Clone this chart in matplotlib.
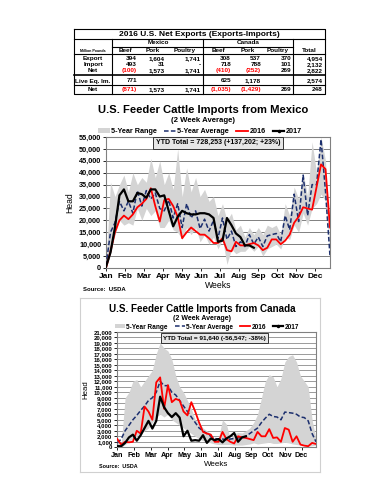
import numpy as np
import matplotlib
matplotlib.use("Agg")
import matplotlib.pyplot as plt
from matplotlib.lines import Line2D
from matplotlib.patches import Patch

plt.rcParams["font.family"] = ["Liberation Sans", "DejaVu Sans"]
plt.rcParams["font.weight"] = "bold"

W, H = 386, 500

# =========================
# data: net exports table
# =========================
tbl_title = "2016 U.S. Net Exports (Exports-Imports)"
tbl_cols = ["Beef", "Pork", "Poultry", "Beef", "Pork", "Poultry", "Total"]
tbl_rows = ["Export", "Import", "Net", "Live Eq. Im.", "Net"]
tbl_vals = [
    ["394", "1,604", "1,741", "308", "537", "370", "4,954"],
    ["493", "31", "-", "718", "788", "101", "2,132"],
    ["(100)", "1,573", "1,741", "(410)", "(252)", "269", "2,822"],
    ["771", "", "", "625", "1,178", "", "2,574"],
    ["(871)", "1,573", "1,741", "(1,035)", "(1,429)", "269", "248"],
]

months = ["Jan", "Feb", "Mar", "Apr", "May", "Jun", "Jul", "Aug", "Sep", "Oct", "Nov", "Dec"]

# =========================
# data: Mexico (head, 2 week avg)
# =========================
mx_2016 = [0, 7000, 15000, 20000, 22000, 20500, 22500, 25500, 27000, 29000,
           33500, 26000, 19500, 28500, 29000, 26000, 21500, 12500, 15000, 17000,
           15500, 14000, 14000, 12500, 10500, 10500, 12500, 7500, 7000, 11000,
           9500, 9500, 10000, 10500, 9500, 7500, 8500, 12000, 12000, 10000,
           11500, 14000, 19000, 21500, 25500, 25000, 24500, 34000, 43500, 41500,
           17000]
mx_2017 = [500, 6500, 17000, 30500, 33000, 28000, 28000, 31500, 31000, 29500,
           33000, 33000, 30000, 30500, 24000, 17500, 21500, 24000, 23000, 22500,
           22500, 23000, 23000, 22500, 21000, 11000, 11500, 21000, 18000, 14500,
           13000, 9500, 9500, 8500]
mx_avg = [1000, 15000, 19000, 28000, 24000, 28000, 23000, 32500, 26000, 32500,
          29000, 31500, 25000, 24000, 28500, 21000, 27000, 17000, 27000, 21000,
          24000, 16500, 20500, 15500, 20000, 12500, 21000, 12000, 15500, 9000,
          11000, 9000, 14000, 10000, 13000, 9000, 13500, 14000, 14500, 11000,
          22000, 16000, 31000, 19500, 39000, 22000, 35000, 35000, 54000, 32000,
          5000]
mx_hi = [2000, 36000, 30000, 35000, 39000, 32000, 40000, 35000, 38000, 36000,
         46000, 38000, 45000, 35000, 40000, 33000, 50000, 30000, 42000, 32000,
         38000, 30000, 33000, 28000, 30000, 22000, 27000, 20000, 23000, 16000,
         18000, 13000, 17000, 14000, 17000, 14000, 18000, 17000, 18000, 14000,
         27000, 22000, 34000, 29000, 40000, 30000, 53000, 40000, 55000, 45000,
         5000]
mx_lo = [0, 6000, 14000, 20000, 18000, 19000, 18000, 25000, 20000, 25000,
         22000, 24000, 17000, 17000, 20000, 16000, 15000, 12000, 17000, 14000,
         17000, 11000, 14000, 10000, 13000, 8000, 12000, 1500, 8000, 6000,
         7000, 7000, 9000, 7000, 9000, 5000, 8000, 9000, 10000, 8000,
         13000, 12000, 18000, 15000, 23000, 18000, 25000, 27000, 31000, 28000,
         5000]

# =========================
# data: Canada (head, 2 week avg)
# =========================
ca_2016 = [1500, 500, 1000, 900, 1000, 3000, 2500, 7400, 6500, 5000,
           11800, 12700, 7000, 11300, 8200, 8800, 8500, 6500, 5800, 8200,
           6500, 4500, 2800, 2500, 2300, 1000, 1000, 2800, 1500, 1000,
           700, 2000, 1800, 1700, 1500, 1300, 2800, 2000, 2000, 3300,
           1700, 1800, 1000, 3500, 3200, 1000, 2000, 500, 300, 200,
           800, 600]
ca_2017 = [200, 200, 800, 1800, 2300, 1200, 2200, 3500, 4800, 3400,
           4800, 9200, 7300, 6200, 5500, 6200, 5400, 2000, 3000, 1200,
           1300, 1200, 2200, 800, 1600, 1300, 1500, 900, 1600, 2000,
           2600, 1000, 1800, 2000]
ca_avg = [800, 1500, 3000, 4000, 5000, 5800, 6700, 7500, 8500, 9000,
          10000, 12000, 11200, 11200, 10000, 9500, 8500, 7500, 6500, 5500,
          4500, 3500, 3000, 2500, 2000, 1600, 1500, 1500, 1400, 1500,
          1600, 1700, 1800, 2000, 2500, 3000, 3500, 4500, 5300, 6000,
          5600, 5500, 5000, 6400, 6300, 6200, 6000, 5500, 5400, 4800,
          2500, 1000]
ca_hi = [1500, 500, 9000, 10000, 12000, 12300, 11000, 12000, 13000, 14000,
         17000, 19000, 18000, 17500, 16000, 13000, 11000, 10000, 8500, 7000,
         5000, 4500, 3500, 3000, 2500, 1500, 1800, 5000, 4200, 1500,
         2500, 2700, 2600, 3000, 3500, 4500, 6000, 9000, 12000, 13200,
         12800, 11000, 12500, 15500, 16500, 16800, 15500, 13000, 12000, 11000,
         5000, 1500]
ca_lo = [0, 0, 500, 1000, 1500, 2000, 2500, 3000, 3500, 4500,
         5500, 6000, 5500, 6000, 5000, 4500, 4000, 3500, 3000, 2500,
         2000, 1500, 1200, 1000, 800, 600, 500, 500, 500, 500,
         400, 400, 400, 500, 600, 800, 600, 700, 800, 900,
         700, 700, 800, 900, 800, 600, 500, 400, 300, 200,
         300, 400]

fig = plt.figure(figsize=(W / 100, H / 100), dpi=100)
fig.patch.set_facecolor("white")


def px_axes(x0, y0, x1, y1):
    return fig.add_axes([x0 / W, 1 - y1 / H, (x1 - x0) / W, (y1 - y0) / H])


# =========================
# 1. table
# =========================
tax = fig.add_axes([0, 0, 1, 1])
tax.set_xlim(0, W)
tax.set_ylim(H, 0)
tax.axis("off")

L, R = 74, 325
col_edges = [112, 139, 167, 203, 233, 263, 293, 325]
row_y = [58.3, 64.8, 70.8, 81.0, 89.5]
lw = 0.8
tax.plot([L, R, R, L, L], [29, 29, 94, 94, 29], color="black", lw=lw)
for y in [39, 54.3]:
    tax.plot([L, R], [y, y], color="black", lw=lw)
tax.plot([112, 293], [46.7, 46.7], color="black", lw=lw)
tax.plot([L, R], [75, 75], color="black", lw=1.2)
tax.plot([L, R], [85, 85], color="black", lw=lw)
for x in [112, 203, 293]:
    tax.plot([x, x], [39, 94], color="black", lw=lw)

tax.text((L + R) / 2, 34, tbl_title, ha="center", va="center", fontsize=6.0)
tax.text(158, 43, "Mexico", ha="center", va="center", fontsize=4.6)
tax.text(248, 43, "Canada", ha="center", va="center", fontsize=4.6)
tax.text(93, 50.8, "Million Pounds", ha="center", va="center", fontsize=2.6)
for j, c in enumerate(tbl_cols):
    xc = (col_edges[j] + col_edges[j + 1]) / 2
    tax.text(xc, 50.8, c, ha="center", va="center", fontsize=4.6)
for i, r in enumerate(tbl_rows):
    tax.text(93, row_y[i], r, ha="center", va="center", fontsize=4.6)
    for j, v in enumerate(tbl_vals[i]):
        col = "red" if v.startswith("(") else "black"
        tax.text(col_edges[j + 1] - 2, row_y[i], v, ha="right", va="center",
                 fontsize=4.6, color=col)


# =========================
# 2. chart helper
# =========================
def draw_chart(ax, lo, hi, avg, y16, y17, ymax, ystep, wk_per_month, tick_fs,
               grid_col):
    x = np.arange(len(lo))
    ax.fill_between(x, lo, hi, color="#d4d4d4", lw=0, zorder=1)
    ax.plot(np.arange(len(avg)), avg, color="#1c2f6e", lw=1.1,
            dashes=(3, 1.5), zorder=3)
    ax.plot(np.arange(len(y16)), y16, color="red", lw=1.3, zorder=4)
    ax.plot(np.arange(len(y17)), y17, color="black", lw=1.6, zorder=5)
    ax.set_xlim(0, len(lo) - 1)
    ax.set_ylim(0, ymax)
    ax.set_yticks(np.arange(0, ymax + 1, ystep))
    ax.set_yticklabels([f"{v:,}" for v in np.arange(0, ymax + 1, ystep)],
                       fontsize=tick_fs)
    ax.set_xticks([i * wk_per_month for i in range(12)])
    ax.set_xticklabels(months, fontsize=tick_fs + 0.8)
    ax.yaxis.grid(True, color=grid_col, lw=0.7, zorder=0)
    ax.set_axisbelow(True)
    ax.tick_params(axis="both", length=2, width=0.6, pad=1.5, colors="black")
    for s in ax.spines.values():
        s.set_color("#808080")
        s.set_linewidth(0.8)


def draw_legend(ax, anchor, fs):
    handles = [
        Patch(facecolor="#d4d4d4", edgecolor="none"),
        Line2D([], [], color="#1c2f6e", lw=1.1, dashes=(3, 1.5)),
        Line2D([], [], color="red", lw=1.3),
        Line2D([], [], color="black", lw=1.6, marker="o", markersize=1.5),
    ]
    labels = ["5-Year Range", "5-Year Average", "2016", "2017"]
    ax.legend(handles, labels, loc="lower center", bbox_to_anchor=anchor,
              ncol=4, frameon=False, fontsize=fs, handlelength=1.6,
              handletextpad=0.2, columnspacing=1.0, borderaxespad=0,
              borderpad=0, handleheight=0.6)


# =========================
# 3. Mexico chart
# =========================
ax1 = px_axes(106, 137, 330, 268)
draw_chart(ax1, mx_lo, mx_hi, mx_avg, mx_2016, mx_2017, 55000, 5000, 4.25,
           5.2, "#808080")
draw_legend(ax1, (0.42, 1.015), 5.2)
ax1.text(0.5, 0.955, "YTD Total = 728,253 (+137,202; +23%)",
         transform=ax1.transAxes, ha="center", va="center", fontsize=5.0,
         zorder=6,
         bbox=dict(boxstyle="square,pad=0.35", fc="#e6e6e6", ec="#333333",
                   lw=0.7))
ax1.set_ylabel("Head", fontsize=6.2, labelpad=3)
ax1.set_xlabel("Weeks", fontsize=6.2, labelpad=1)
fig.text(203 / W, 1 - 110 / H, "U.S. Feeder Cattle Imports from Mexico",
         ha="center", va="center", fontsize=8.1)
fig.text(203 / W, 1 - 120.5 / H, "(2 Week Average)", ha="center", va="center",
         fontsize=5.6)
fig.text(83 / W, 1 - 289.5 / H, "Source:  USDA", ha="left", va="center",
         fontsize=4.3)

# =========================
# 4. Canada chart
# =========================
frame = fig.add_axes([80 / W, 1 - 472 / H, 240 / W, 174 / H], zorder=-1)
frame.set_xticks([])
frame.set_yticks([])
for s in frame.spines.values():
    s.set_color("#d0d0d0")
    s.set_linewidth(0.8)

ax2 = px_axes(117.3, 331.7, 316, 447.3)
draw_chart(ax2, ca_lo, ca_hi, ca_avg, ca_2016, ca_2017, 21000, 1000, 4.3,
           4.4, "#9a9a9a")
draw_legend(ax2, (0.45, 1.01), 4.7)
ax2.text(0.49, 0.945, "YTD Total = 91,640 (-56,547; -38%)",
         transform=ax2.transAxes, ha="center", va="center", fontsize=4.6,
         zorder=6,
         bbox=dict(boxstyle="square,pad=0.35", fc="#e6e6e6", ec="#333333",
                   lw=0.7))
ax2.set_ylabel("Head", fontsize=5.6, labelpad=3)
ax2.set_xlabel("Weeks", fontsize=5.8, labelpad=1)
fig.text(202 / W, 1 - 309 / H, "U.S. Feeder Cattle Imports from Canada",
         ha="center", va="center", fontsize=7.1)
fig.text(202 / W, 1 - 318.5 / H, "(2 Week Average)", ha="center",
         va="center", fontsize=5.0)
fig.text(99 / W, 1 - 466 / H, "Source:  USDA", ha="left", va="center",
         fontsize=3.9)

fig.savefig("out.png", dpi=100, facecolor="white")
